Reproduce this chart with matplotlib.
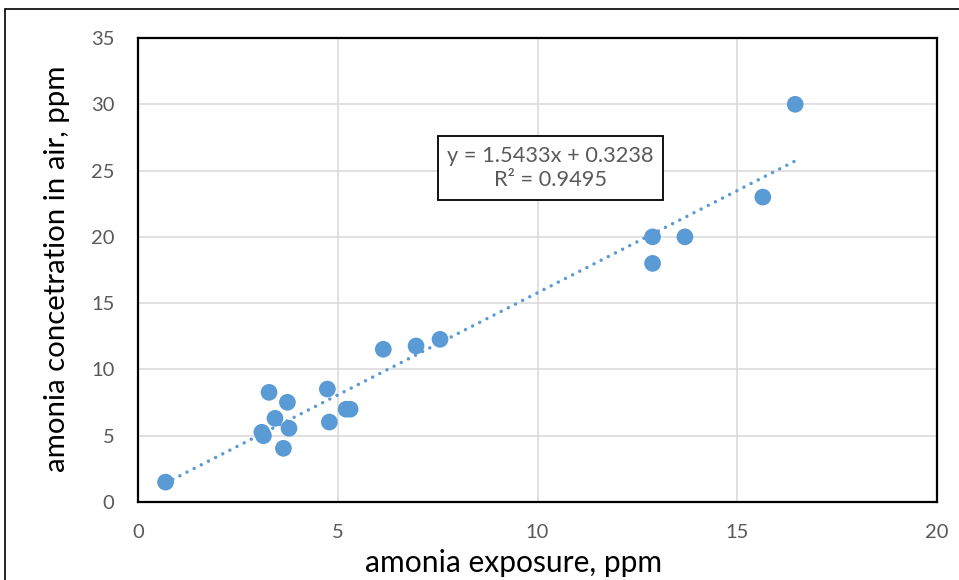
import matplotlib
matplotlib.use("Agg")
import matplotlib.pyplot as plt
import numpy as np
from matplotlib.patches import Rectangle

exposure = [0.69, 3.10, 3.14, 3.28, 3.43, 3.64, 3.74, 3.78, 4.74, 4.79, 5.21, 5.31,
            6.14, 6.96, 7.56, 12.88, 12.88, 13.69, 15.64, 16.45]
concentration = [1.5, 5.26, 5.0, 8.27, 6.31, 4.05, 7.52, 5.56, 8.52, 6.03, 7.0, 7.0,
                 11.52, 11.77, 12.27, 20.0, 18.0, 20.0, 23.0, 30.0]
x_ticks = [0, 5, 10, 15, 20]
y_ticks = [0, 5, 10, 15, 20, 25, 30, 35]
equation_text = "y = 1.5433x + 0.3238\nR² = 0.9495"

plt.rcParams['font.family'] = ['Lato', 'DejaVu Sans']
blue = '#5B9BD5'
gray = '#595959'

fig = plt.figure(figsize=(9.59, 5.80), dpi=100)
ax = fig.add_axes([138/959, 1-502/580, (937-138)/959, (502-38)/580])

# outer chart border
fig.patches.append(Rectangle((5/959, -0.2), 1.2, 1-9/580+0.2, transform=fig.transFigure,
                             fill=False, edgecolor='black', linewidth=1.2, clip_on=False))

x = np.array(exposure)
y = np.array(concentration)
m, b = np.polyfit(x, y, 1)
xs = np.array([x.min(), x.max()])
ax.plot(xs, m*xs + b, color=blue, linewidth=2.5, linestyle=(0, (0.01, 2.3)),
        dash_capstyle='round', zorder=2)
ax.scatter(x, y, s=145, color=blue, edgecolors='none', zorder=3)

ax.set_xlim(0, 20)
ax.set_ylim(0, 35)
ax.set_xticks(x_ticks)
ax.set_yticks(y_ticks)
ax.grid(True, color='#D9D9D9', linewidth=1.1)
ax.set_axisbelow(True)
for s in ax.spines.values():
    s.set_color('black')
    s.set_linewidth(1.6)
ax.tick_params(axis='both', length=0, labelsize=14.5, labelcolor=gray)
ax.tick_params(axis='y', pad=17)
ax.tick_params(axis='x', pad=16)

fig.text(513.5/959, 1-572/580, "amonia exposure, ppm", fontsize=21.6, color='black',
         ha='center', va='baseline')
fig.text(57/959, 1-268.5/580, "amonia concetration in air, ppm", fontsize=21.2, color='black',
         ha='center', va='center', rotation=90)

ax.text(550.5/959, 1-168/580, equation_text, transform=fig.transFigure, ha='center', va='center',
        fontsize=15.7, color=gray, linespacing=1.3,
        bbox=dict(boxstyle='square,pad=0.42', facecolor='white', edgecolor='black', linewidth=1.3))

fig.savefig("out.png", dpi=100)
